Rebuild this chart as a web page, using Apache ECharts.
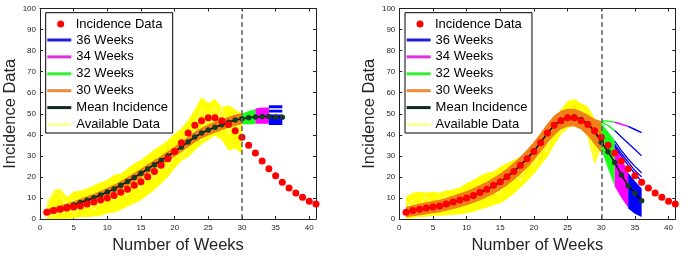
<!DOCTYPE html>
<html><head><meta charset="utf-8">
<script src="https://cdn.jsdelivr.net/npm/echarts@6/dist/echarts.min.js"></script>
<style>html,body{margin:0;padding:0;background:#fff}#c{width:695px;height:260px}</style>
</head><body><div id="c"></div>
<script>
// ---------- DATA ----------
const weeks = [1,2,3,4,5,6,7,8,9,10,11,12,13,14,15,16,17,18,19,20,21,22,23,24,25,26,27,28,29,30,31,32,33,34,35,36,37,38,39,40,41];
const incidence = [3.2,4.0,4.6,5.2,5.7,6.2,7.1,8.1,9.0,10.0,11.2,12.7,14.1,16.0,17.7,20.1,22.6,25.5,28.6,32.1,36.2,40.8,44.5,46.7,48.1,48.1,46.7,44.9,41.9,38.8,35.0,31.3,27.5,23.9,20.6,17.4,14.7,12.3,10.3,8.4,7.1];
const meanWeeks = weeks.slice(0, 36);
const fitWeeks = weeks.slice(0, 30);

// left panel
const meanL = [3.2,4.0,4.8,5.7,6.7,7.8,8.9,10.1,11.4,12.8,14.3,16.0,17.8,19.7,21.7,23.8,25.8,27.8,29.9,32.0,34.2,36.6,38.9,40.8,42.3,43.6,44.8,46.0,47.0,47.6,48.1,48.5,48.7,48.7,48.5,48.3];
const availLoL = [0,0,0,0,0.3,0.8,1.0,1.2,1.4,2.7,3.0,4.3,5.9,7.4,9.0,11.4,13.8,16.9,20.0,24.0,27.5,29.5,32.5,35.5,37.5,39.5,37.5,32.5,33.5,31.0];
const availHiL = [7.5,13.5,14.5,10.5,13.0,13.5,14.5,16.0,17.5,18.5,21.0,21.5,24.0,26.5,28.0,30.5,33.0,35.0,37.5,40.5,43.0,47.0,52.0,58.0,55.0,57.0,53.0,54.0,52.0,50.0];
const availL1 = [5,13,12,6,9,8,10,12,11,15,13,17,16,21,19,24,26,28,31,33,38,40,45,52,47,53,49,44,42,46];
const availL2 = [2,4,9,3,6,10,6,9,14,8,16,12,20,15,24,20,29,25,34,30,36,43,39,48,44,50,45,48,38,40];
const availL3 = [1,2,3,8,3,5,9,4,8,12,9,14,11,18,14,22,19,26,24,31,29,35,42,37,50,42,54,40,50,36];
const fit30LoL = [1.7,2.5,3.2,4.0,5.0,6.0,7.0,8.2,9.5,10.8,12.3,13.9,15.7,17.6,19.6,21.6,23.6,25.6,27.6,29.6,31.8,34.1,36.3,38.2,39.7,41.0,42.2,43.3,44.3,45.0];
const fit30HiL = [4.7,5.6,6.5,7.4,8.4,9.6,10.8,12.0,13.3,14.8,16.3,18.0,19.9,21.8,23.9,26.0,28.0,30.0,32.2,34.4,36.6,39.1,41.5,43.4,44.9,46.2,47.4,48.6,49.6,50.2];
const w32 = [30,31,32], w34 = [32,33,34], w36 = [34,35,36];
const fit32LoL = [45.0,45.0,45.0], fit32HiL = [50.0,51.3,52.3];
const fit34LoL = [45.3,45.3,45.3], fit34HiL = [52.5,53.0,53.0];
const fit36LoL = [44.6,44.6,44.6], fit36HiL = [49.6,49.6,49.6];
const fit36bLoL = [50.6,50.6,50.6], fit36bHiL = [51.9,51.9,51.9];
const fit36cLoL = [52.6,52.6,52.6], fit36cHiL = [54.0,54.0,54.0];

// right panel
const meanR = [3.2,3.9,4.5,5.1,5.6,6.2,7.0,8.0,8.9,9.9,11.1,12.5,14.0,15.8,17.7,20.0,22.6,25.5,28.7,32.3,36.4,40.8,44.5,46.9,48.3,48.4,47.3,45.2,41.8,36.5,32.0,26.8,20.9,15.7,12.2,8.7];
const availLoR = [0,0.5,1.0,1.0,1.5,1.5,1.8,2.0,2.3,2.7,3.5,4.5,5.5,6.5,7.5,9.5,12.0,15.0,18.0,21.5,25.5,29.5,35.0,40.0,43.0,44.5,43.5,39.0,26.0,34.0];
const availHiR = [10.5,12.5,13.0,12.5,13.0,12.5,13.5,14.0,15.0,17.0,18.5,20.5,22.0,22.5,25.0,26.5,28.0,29.5,32.0,34.5,38.0,42.0,47.0,52.0,56.0,57.0,55.0,53.5,48.0,43.0];
const availR1 = [5,9,3,8,6,10,5,9,8,13,10,16,12,17,16,22,19,25,26,29,35,36,43,44,52,47,50,45,30,38];
const availR2 = [2,3,8,4,9,4,8,5,10,7,14,9,17,11,20,15,24,20,23,31,28,40,39,49,46,54,46,50,44,40];
const availR3 = [8,5,6,11,4,8,11,8,6,12,8,13,18,14,12,19,22,18,29,25,33,32,45,41,50,45,52,42,38,36];
const fit30LoR = [0.8,1.3,1.8,2.3,2.7,3.2,3.9,4.8,5.6,6.5,7.6,8.9,10.3,12.0,13.8,16.0,18.5,21.3,24.4,27.9,31.8,36.0,39.8,42.5,44.0,44.0,42.5,39.5,35.5,31.5];
const fit30HiR = [5.8,6.5,7.2,7.9,8.5,9.2,10.1,11.2,12.2,13.3,14.6,16.1,17.7,19.6,21.6,24.0,26.7,29.7,33.0,36.7,40.9,45.4,49.2,51.4,52.4,52.4,51.2,49.5,47.5,46.5];
const fit32LoR = [33.0,24.0,15.5], fit32HiR = [46.0,41.0,36.0];
const fit34LoR = [15.5,10.0,5.5], fit34HiR = [36.0,29.0,22.5];
const fit36LoR = [5.0,2.5,1.0], fit36HiR = [22.0,18.0,14.5];
const fanWeeks = [30,31,32,33,34,35,36];
const fan1 = [46.5,46.5,46.0,45.0,44.0,42.5,41.0];
const fan2 = [46.0,44.5,42.0,39.0,36.0,33.0,30.0];
const fan3 = [45.0,41.0,37.0,32.5,28.5,25.0,22.0];
const fan4 = [44.5,40.0,35.5,31.0,27.0,23.0,20.0];
const fan5 = [44.0,39.0,34.5,30.0,25.5,21.5,18.0];

const legendNames = ['Incidence Data','36 Weeks','34 Weeks','32 Weeks','30 Weeks','Mean Incidence','Available Data'];

// ---------- STYLE ----------
const FF = 'Liberation Sans, Arial, Helvetica, sans-serif';
const C = {red:'#ff0000', blue:'#0000ff', mag:'#ff00ff', green:'#19ff19', orange:'#f08018', mean:'#163a25', yellow:'#ffff00', dash:'#606060'};
const legendColors = {'36 Weeks':'#1f1fe0','34 Weeks':'#e030e0','32 Weeks':'#30f030','30 Weeks':'#ec8a3a','Mean Incidence':'#0f2a1c','Available Data':'#ffff99'};

function pairs(xs, ys){ return xs.map((x,i)=>[x, ys[i]]); }

function band(name, ax, xs, lo, hi, color, z){
  return {
    type:'custom', name, xAxisIndex:ax.x, yAxisIndex:ax.y, z, silent:true, clip:true,
    data: xs.map((x,i)=>[x, lo[i], hi[i]]),
    encode:{x:0, y:[1,2]},
    renderItem:function(params, api){
      if (params.dataIndex !== 0) return null;
      const up=[], dn=[];
      for (let i=0;i<xs.length;i++){ up.push(api.coord([xs[i], hi[i]])); dn.push(api.coord([xs[i], lo[i]])); }
      return {type:'polygon', shape:{points: up.concat(dn.reverse())}, style:{fill:color}};
    }
  };
}
function line(name, ax, xs, ys, color, width, z){
  return {type:'line', name, xAxisIndex:ax.x, yAxisIndex:ax.y, z, silent:true, symbol:'none',
    data: pairs(xs, ys), lineStyle:{color, width}, itemStyle:{color}, animation:false};
}

function panelSeries(ax, d){
  const s = [];
  s.push(band('Available Data', ax, fitWeeks, d.availLo, d.availHi, C.yellow, 1));
  s.push(line('Available Data', ax, fitWeeks, d.av1, '#ffff8c', 1, 1));
  s.push(line('Available Data', ax, fitWeeks, d.av2, '#e8e800', 1, 1));
  s.push(line('Available Data', ax, fitWeeks, d.av3, '#ffffa0', 1, 1));
  s.push(band('30 Weeks', ax, fitWeeks, d.f30Lo, d.f30Hi, C.orange, 2));
  s.push(band('32 Weeks', ax, w32, d.f32Lo, d.f32Hi, C.green, 2));
  s.push(band('34 Weeks', ax, w34, d.f34Lo, d.f34Hi, C.mag, 2));
  d.f36.forEach(b => s.push(band('36 Weeks', ax, w36, b[0], b[1], C.blue, 2)));
  (d.fans || []).forEach(f => {
    s.push(line('32 Weeks', ax, fanWeeks.slice(0,3), f.v.slice(0,3), C.green, 1.5, 2));
    if (f.mag) {
      s.push(line('34 Weeks', ax, fanWeeks.slice(2,5), f.v.slice(2,5), C.mag, 1.5, 2));
      s.push(line('36 Weeks', ax, fanWeeks.slice(4), f.v.slice(4), C.blue, 1.5, 2));
    } else {
      s.push(line('36 Weeks', ax, fanWeeks.slice(2), f.v.slice(2), C.blue, 1.3, 2));
    }
  });
  s.push({type:'line', name:'Mean Incidence', xAxisIndex:ax.x, yAxisIndex:ax.y, z:3, silent:true,
    data: pairs(meanWeeks, d.mean), symbol:'circle', symbolSize:5.5, showSymbol:true,
    lineStyle:{color:'#000', width:1.5}, itemStyle:{color:C.mean}, animation:false,
    markLine:{silent:true, symbol:'none', label:{show:false},
      lineStyle:{color:C.dash, type:[5,3], width:1.5}, data:[{xAxis:30}]}});
  s.push({type:'scatter', name:'Incidence Data', xAxisIndex:ax.x, yAxisIndex:ax.y, z:4, silent:true,
    data: pairs(weeks, incidence), symbol:'circle', symbolSize:7, itemStyle:{color:C.red, opacity:1}, animation:false});
  return s;
}

const GL = [40, 399.3];
const GW = 276, GT = 8.5, GH = 210.5;

function xAxes(gi){
  const base = {type:'value', gridIndex:gi, min:0, max:41, interval:5,
    axisLine:{show:true, onZero:false, lineStyle:{color:'#222', width:1}},
    axisTick:{show:true, inside:true, length:3, lineStyle:{color:'#222'}},
    splitLine:{show:false}};
  return [
    Object.assign({}, base, {position:'bottom',
      axisLabel:{show:true, fontSize:8, color:'#262626', margin:5, showMaxLabel:false, fontFamily:FF},
      name:'Number of Weeks', nameLocation:'middle', nameGap:18,
      nameTextStyle:{fontSize:16.5, color:'#262626', fontFamily:FF}}),
    Object.assign({}, base, {position:'top', axisLabel:{show:false}})
  ];
}
function yAxes(gi){
  const base = {type:'value', gridIndex:gi, min:0, max:100, interval:10,
    axisLine:{show:true, onZero:false, lineStyle:{color:'#222', width:1}},
    axisTick:{show:true, inside:true, length:3, lineStyle:{color:'#222'}},
    splitLine:{show:false}};
  return [
    Object.assign({}, base, {position:'left',
      axisLabel:{show:true, fontSize:8, color:'#262626', margin:4, fontFamily:FF},
      name:'Incidence Data', nameLocation:'middle', nameGap:19.5,
      nameTextStyle:{fontSize:16.5, color:'#262626', fontFamily:FF}}),
    Object.assign({}, base, {position:'right', axisLabel:{show:false}})
  ];
}

function legends(L){
  return [
    {selectedMode:false, orient:'vertical', left:L+5.7, top:12.7, padding:[20.8,4.6,2,1.6],
     backgroundColor:'#fff', borderColor:'#000', borderWidth:1, z:5,
     itemWidth:24, itemHeight:3, itemGap:3.9,
     textStyle:{fontSize:13, lineHeight:13, color:'#000', fontFamily:FF},
     data: legendNames.slice(1).map(n=>({name:n, icon:'rect', itemStyle:{color:legendColors[n], borderWidth:0}}))},
    {selectedMode:false, orient:'vertical', left:L+17.2, top:17.6, padding:0, z:6,
     itemWidth:20, itemHeight:7,
     textStyle:{fontSize:13, lineHeight:13, color:'#000', fontFamily:FF},
     data:[{name:legendNames[0], icon:'circle', itemStyle:{color:C.red, borderWidth:0}}]}
  ];
}

const left = {mean:meanL, availLo:availLoL, availHi:availHiL, av1:availL1, av2:availL2, av3:availL3,
  f30Lo:fit30LoL, f30Hi:fit30HiL, f32Lo:fit32LoL, f32Hi:fit32HiL, f34Lo:fit34LoL, f34Hi:fit34HiL,
  f36:[[fit36LoL,fit36HiL],[fit36bLoL,fit36bHiL],[fit36cLoL,fit36cHiL]]};
const right = {mean:meanR, availLo:availLoR, availHi:availHiR, av1:availR1, av2:availR2, av3:availR3,
  f30Lo:fit30LoR, f30Hi:fit30HiR, f32Lo:fit32LoR, f32Hi:fit32HiR, f34Lo:fit34LoR, f34Hi:fit34HiR,
  f36:[[fit36LoR,fit36HiR]],
  fans:[{v:fan1, mag:true},{v:fan2},{v:fan3},{v:fan4},{v:fan5}]};

const chart = echarts.init(document.getElementById('c'), null, {renderer:'canvas'});
chart.setOption({
  animation:false,
  backgroundColor:'#fff',
  grid:[{left:GL[0], top:GT, width:GW, height:GH}, {left:GL[1], top:GT, width:GW, height:GH}],
  xAxis:[...xAxes(0), ...xAxes(1)],
  yAxis:[...yAxes(0), ...yAxes(1)],
  legend:[...legends(GL[0]), ...legends(GL[1])],
  series:[...panelSeries({x:0,y:0}, left), ...panelSeries({x:2,y:2}, right)]
});
</script></body></html>
